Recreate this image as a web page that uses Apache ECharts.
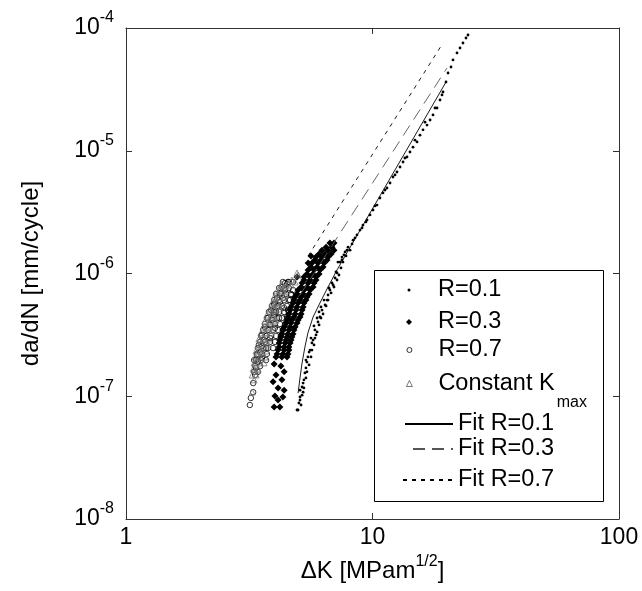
<!DOCTYPE html>
<html><head><meta charset="utf-8">
<script src="https://cdn.jsdelivr.net/npm/echarts@6/dist/echarts.min.js"></script>
<style>html,body{margin:0;padding:0;background:#fff}#c{width:642px;height:591px}</style>
</head><body><div id="c"></div>
<script>
// ---- data (ΔK [MPa√m], da/dN [mm/cycle]) ----
const r01Points = [
  [24.40,8.77e-5],[23.95,8.29e-5],[23.28,7.55e-5],[22.65,6.87e-5],[22.02,6.26e-5],[21.21,5.49e-5],
  [20.82,4.81e-5],[20.25,4.30e-5],[19.87,3.63e-5],[19.32,3.01e-5],[18.79,2.59e-5],[18.27,2.23e-5],
  [17.60,1.96e-5],[17.12,1.78e-5],[16.64,1.62e-5],[16.03,1.48e-5],[15.58,1.34e-5],[15.16,1.18e-5],
  [14.60,1.07e-5],[14.19,9.77e-6],[13.80,8.89e-6],[13.30,8.10e-6],[12.93,7.37e-6],[12.57,6.71e-6],
  [12.11,6.11e-6],[11.78,5.46e-6],[11.45,4.97e-6],[11.03,4.53e-6],[10.72,4.12e-6],[10.43,3.61e-6],
  [10.05,3.29e-6],[9.77,3.00e-6],[9.50,2.73e-6],[9.15,2.48e-6],[8.90,2.26e-6],[8.65,2.06e-6],
  [8.34,1.87e-6],[7.96,1.64e-6],[7.74,1.50e-6],[7.52,1.36e-6],[7.24,1.24e-6],[7.88,1.55e-6],
  [7.52,1.29e-6],[7.18,1.01e-6],[6.85,8.37e-7],[6.54,6.08e-7],[6.12,4.42e-7],[5.84,3.47e-7],
  [5.68,2.72e-7],[5.47,2.09e-7],[5.32,1.55e-7],[5.18,1.19e-7],[5.08,9.86e-8],[4.99,7.73e-8],
  [7.05,9.19e-7],[6.72,7.34e-7],[6.42,5.54e-7],[6.24,5.04e-7],[6.01,4.03e-7],[5.90,3.16e-7],
  [5.74,2.87e-7],[5.58,2.38e-7],[5.42,1.90e-7],[5.37,1.70e-7],[5.27,1.36e-7],[5.23,1.08e-7],
  [5.03,8.81e-8],[4.94,7.73e-8],[5.13,8.49e-8],[6.07,4.86e-7],[6.60,6.68e-7],[6.92,8.06e-7],
  [5.08,1.12e-7],[5.23,1.28e-7],[5.37,1.97e-7],[5.53,2.29e-7],[5.63,2.98e-7],[5.79,3.74e-7],
  [5.96,4.34e-7],[6.18,5.34e-7],[6.36,6.08e-7],[6.66,7.62e-7],[7.11,1.03e-6],[7.38,1.24e-6],
  [7.66,1.42e-6],
  [5.08,9.31e-8],[5.18,1.02e-7],[5.27,1.17e-7],[5.37,1.41e-7],[5.42,1.58e-7],[5.53,1.80e-7],
  [5.63,2.09e-7],[5.68,2.38e-7],[5.79,2.62e-7],[5.84,2.98e-7],[5.96,3.34e-7],[6.07,3.81e-7],
  [6.18,4.34e-7],[6.30,4.68e-7],[6.48,5.44e-7],[6.60,6.08e-7],[6.79,6.94e-7],[6.98,7.76e-7],
  [7.18,8.85e-7],[7.31,9.72e-7],[7.45,1.11e-6],[7.59,1.24e-6],[7.81,1.39e-6],[8.11,1.55e-6],
  [8.26,1.74e-6],[8.49,1.95e-6],[9.07,2.35e-6],[9.41,2.63e-6],[10.23,3.55e-6],[11.24,4.79e-6],
  [12.34,6.35e-6],[13.54,8.73e-6],[14.87,1.22e-5],[16.33,1.71e-5],[17.93,2.23e-5],[19.14,2.85e-5]
];
const r03Points = [
  [6.72,1.77e-6],[6.98,1.77e-6],
  [6.24,1.55e-6],[6.60,1.55e-6],[6.98,1.55e-6],
  [5.90,1.36e-6],[6.24,1.36e-6],[6.60,1.36e-6],
  [5.68,1.22e-6],[6.01,1.22e-6],[6.36,1.22e-6],
  [5.48,1.07e-6],[5.79,1.07e-6],[6.12,1.07e-6],
  [5.27,9.36e-7],[5.58,9.36e-7],[5.90,9.36e-7],
  [5.18,8.37e-7],[5.48,8.37e-7],[5.79,8.37e-7],
  [4.99,7.34e-7],[5.27,7.34e-7],[5.58,7.34e-7],
  [4.85,6.44e-7],[5.13,6.44e-7],[5.42,6.44e-7],
  [4.76,5.75e-7],[4.99,5.75e-7],[5.27,5.75e-7],
  [4.63,5.04e-7],[4.89,5.04e-7],[5.18,5.04e-7],
  [4.54,4.42e-7],[4.80,4.42e-7],[5.08,4.42e-7],
  [4.46,3.95e-7],[4.67,3.95e-7],[4.94,3.95e-7],
  [4.33,3.47e-7],[4.58,3.47e-7],[4.80,3.47e-7],
  [4.25,3.04e-7],[4.50,3.04e-7],[4.71,3.04e-7],
  [4.18,2.72e-7],[4.42,2.72e-7],[4.63,2.72e-7],
  [4.14,2.38e-7],[4.38,2.38e-7],[4.58,2.38e-7],
  [4.06,2.09e-7],[4.29,2.09e-7],[4.50,2.09e-7],
  [6.48,1.64e-6],[6.85,1.64e-6],
  [6.07,1.44e-6],[6.42,1.44e-6],[6.79,1.44e-6],
  [5.84,1.29e-6],[6.18,1.29e-6],[6.54,1.29e-6],
  [5.63,1.13e-6],[5.96,1.13e-6],[6.30,1.13e-6],
  [5.42,9.91e-7],[5.74,9.91e-7],[6.07,9.91e-7],
  [5.27,8.85e-7],[5.58,8.85e-7],[5.90,8.85e-7],
  [5.13,7.76e-7],[5.42,7.76e-7],[5.74,7.76e-7],
  [4.94,6.81e-7],[5.23,6.81e-7],[5.53,6.81e-7],
  [4.80,6.08e-7],[5.08,6.08e-7],[5.37,6.08e-7],
  [4.67,5.34e-7],[4.94,5.34e-7],[5.23,5.34e-7],
  [4.58,4.68e-7],[4.85,4.68e-7],[5.13,4.68e-7],
  [4.50,4.18e-7],[4.71,4.18e-7],[4.99,4.18e-7],
  [4.38,3.67e-7],[4.63,3.67e-7],[4.85,3.67e-7],
  [4.29,3.22e-7],[4.54,3.22e-7],[4.76,3.22e-7],
  [4.21,2.87e-7],[4.46,2.87e-7],[4.67,2.87e-7],
  [4.18,2.52e-7],[4.38,2.52e-7],[4.58,2.52e-7],
  [4.10,2.21e-7],[4.33,2.21e-7],[4.54,2.21e-7],
  [3.99,1.83e-7],[4.25,1.76e-7],[4.38,1.58e-7],[4.06,1.49e-7],[3.95,1.31e-7],[4.29,1.36e-7],
  [4.14,1.17e-7],[4.38,1.12e-7],[4.02,1.005e-7],[4.33,9.86e-8],[4.14,9.31e-8],[3.99,8.18e-8],
  [4.21,8.18e-8],[5.48,1.22e-6],[4.94,9.36e-7],[5.63,1.39e-6]
];
const r07Points = [
  [3.18,8.49e-8],[3.21,9.68e-8],[3.28,1.08e-7],[3.28,1.28e-7],[3.34,1.49e-7],[3.37,1.70e-7],
  [3.31,1.97e-7],[3.43,1.90e-7],[3.40,2.17e-7],[3.50,2.29e-7],[3.56,2.57e-7],[3.46,2.62e-7],
  [3.63,2.87e-7],[3.70,3.10e-7],[3.56,3.16e-7],[3.77,3.47e-7],[3.66,3.67e-7],[3.84,3.81e-7],
  [3.91,4.18e-7],[3.77,4.34e-7],[3.99,4.59e-7],[4.06,4.86e-7],[3.88,5.04e-7],[4.14,5.44e-7],
  [3.99,5.64e-7],[4.21,5.86e-7],[4.10,6.31e-7],[4.33,6.31e-7],[4.21,6.94e-7],[4.42,7.34e-7],
  [4.29,7.76e-7],[4.50,8.21e-7],[4.42,8.37e-7],[4.58,8.53e-7],[4.63,6.08e-7],[4.50,4.42e-7],
  [4.67,6.68e-7],[4.38,5.24e-7],[4.18,4.34e-7],[4.02,3.60e-7],[3.84,2.98e-7],[3.70,2.47e-7],
  [3.56,2.05e-7],[4.76,7.34e-7],[4.54,5.04e-7],
  [3.31,1.58e-7],[3.43,1.58e-7],[3.34,1.76e-7],[3.50,1.76e-7],
  [3.37,1.97e-7],[3.53,1.97e-7],[3.70,1.97e-7],[3.40,2.21e-7],[3.56,2.21e-7],[3.73,2.21e-7],
  [3.43,2.47e-7],[3.60,2.47e-7],[3.77,2.47e-7],[3.95,2.47e-7],
  [3.50,2.77e-7],[3.66,2.77e-7],[3.84,2.77e-7],[4.02,2.77e-7],
  [3.53,3.10e-7],[3.70,3.10e-7],[3.88,3.10e-7],[4.06,3.10e-7],[4.25,3.10e-7],
  [3.60,3.47e-7],[3.77,3.47e-7],[3.95,3.47e-7],[4.14,3.47e-7],[4.33,3.47e-7],
  [3.66,3.88e-7],[3.84,3.88e-7],[4.02,3.88e-7],[4.21,3.88e-7],[4.42,3.88e-7],
  [3.73,4.34e-7],[3.91,4.34e-7],[4.10,4.34e-7],[4.29,4.34e-7],
  [3.80,4.86e-7],[3.99,4.86e-7],[4.18,4.86e-7],[4.38,4.86e-7],[4.58,4.86e-7],
  [3.91,5.44e-7],[4.10,5.44e-7],[4.29,5.44e-7],[4.50,5.44e-7],
  [3.99,6.08e-7],[4.18,6.08e-7],[4.38,6.08e-7],[4.58,6.08e-7],
  [4.06,6.81e-7],[4.25,6.81e-7],[4.46,6.81e-7],[4.67,6.81e-7],
  [4.18,7.62e-7],[4.38,7.62e-7],[4.58,7.62e-7],
  [4.33,8.53e-7],[4.54,8.53e-7],[4.76,8.53e-7]
];
const kmaxPoints = [
  [3.25,1.08e-7],[3.31,1.36e-7],[3.34,1.64e-7],[3.37,1.90e-7],[3.43,2.13e-7],[3.46,2.38e-7],
  [3.53,2.67e-7],[3.60,2.98e-7],[3.66,3.28e-7],[3.70,3.60e-7],[3.77,4.03e-7],[3.84,4.34e-7],
  [3.88,4.86e-7],[3.95,5.24e-7],[4.02,5.75e-7],[4.06,6.31e-7],[4.14,6.81e-7],[4.21,7.34e-7],
  [4.29,8.21e-7],[4.38,7.76e-7],[4.54,8.37e-7],[4.71,8.85e-7],[4.94,1.01e-6],[4.99,9.72e-7],
  [4.85,8.53e-7],[3.56,2.29e-7],[3.73,2.77e-7],[3.91,3.47e-7],[4.06,4.18e-7],[4.18,5.44e-7],
  [3.43,1.64e-7],[4.42,6.68e-7],
  [3.25,1.49e-7],[3.37,1.49e-7],[3.28,1.67e-7],[3.43,1.67e-7],
  [3.31,1.87e-7],[3.46,1.87e-7],[3.63,1.87e-7],[3.34,2.09e-7],[3.50,2.09e-7],[3.66,2.09e-7],
  [3.37,2.34e-7],[3.53,2.34e-7],[3.70,2.34e-7],[3.43,2.62e-7],[3.60,2.62e-7],[3.77,2.62e-7],
  [3.46,2.93e-7],[3.63,2.93e-7],[3.80,2.93e-7],[3.53,3.28e-7],[3.70,3.28e-7],[3.88,3.28e-7],
  [3.60,3.67e-7],[3.77,3.67e-7],[3.95,3.67e-7],[3.66,4.10e-7],[3.84,4.10e-7],[4.02,4.10e-7],
  [3.73,4.59e-7],[3.91,4.59e-7],[4.10,4.59e-7],[3.84,5.14e-7],[4.02,5.14e-7],[4.21,5.14e-7],
  [3.91,5.75e-7],[4.10,5.75e-7],[4.29,5.75e-7],[3.99,6.44e-7],[4.18,6.44e-7],[4.38,6.44e-7],
  [4.10,7.20e-7],[4.29,7.20e-7],[4.50,7.20e-7],[4.25,8.06e-7],[4.46,8.06e-7],[4.67,8.06e-7]
];
const fit01Points = [[4.99,1.06e-7],[5.08,1.41e-7],[5.18,1.87e-7],[5.32,2.52e-7],[5.47,3.28e-7],
  [5.74,4.42e-7],[6.12,5.75e-7],[6.60,7.76e-7],[7.18,1.07e-6],[19.87,3.63e-5]];
const fit03Points = [[5.08,6.68e-7],[20.05,4.72e-5]];
const fit07Points = [[5.48,1.39e-6],[19.32,7.55e-5]];

const FONT = "'Liberation Sans', Arial, Helvetica, sans-serif";
const LFS = 23.5;
const chart = echarts.init(document.getElementById('c'), null, {renderer: 'canvas'});

function lg(item, left, top, w, h, pad, extra) {
  return Object.assign({
    data: [item], left: left, top: top, itemWidth: w, itemHeight: h, padding: 0,
    selectedMode: false, orient: 'vertical',
    textStyle: {fontFamily: FONT, fontSize: LFS, lineHeight: 26, color: '#000', padding: [0, 0, 0, pad]}
  }, extra || {});
}
const noSym = {itemStyle: {color: 'rgba(0,0,0,0)', borderColor: 'rgba(0,0,0,0)', borderWidth: 0, opacity: 0}};

chart.setOption({
  animation: false,
  grid: {left: 126, right: 23, top: 28, bottom: 72, show: false},
  xAxis: [{
    type: 'log', logBase: 10, min: 1, max: 100, position: 'bottom',
    axisLine: {lineStyle: {color: '#333', width: 1}},
    axisTick: {inside: true, length: 6, lineStyle: {color: '#333'}},
    minorTick: {show: false}, splitLine: {show: false},
    axisLabel: {fontFamily: FONT, fontSize: 23, color: '#000', margin: 7},
    name: '{a|ΔK [MPam}{s|1/2}{a|]}', nameLocation: 'middle', nameGap: 28,
    nameTextStyle: {rich: {a: {fontFamily: FONT, fontSize: 24, color: '#000'},
      s: {fontFamily: FONT, fontSize: 16, color: '#000', padding: [0, 0, 18, 0]}}}
  }, {
    type: 'log', logBase: 10, min: 1, max: 100, position: 'top',
    axisLine: {lineStyle: {color: '#333', width: 1}},
    axisTick: {inside: true, length: 6, lineStyle: {color: '#333'}},
    axisLabel: {show: false}, splitLine: {show: false}
  }],
  yAxis: [{
    type: 'log', logBase: 10, min: 1e-8, max: 1e-4, interval: 1, position: 'left',
    axisLine: {lineStyle: {color: '#333', width: 1}},
    axisTick: {inside: true, length: 6, lineStyle: {color: '#333'}},
    minorTick: {show: false}, splitLine: {show: false},
    axisLabel: {
      margin: 12,
      formatter: v => '{a|10}{s|' + Math.round(Math.log10(v)) + '}',
      rich: {a: {fontFamily: FONT, fontSize: 23, color: '#000'},
        s: {fontFamily: FONT, fontSize: 16, color: '#000', padding: [0, 0, 20, 0]}}
    },
    name: 'da/dN [mm/cycle]', nameLocation: 'middle', nameRotate: 90, nameGap: 83,
    nameTextStyle: {fontFamily: FONT, fontSize: 24, color: '#000'}
  }, {
    type: 'log', logBase: 10, min: 1e-8, max: 1e-4, interval: 1, position: 'right',
    axisLine: {lineStyle: {color: '#333', width: 1}},
    axisTick: {inside: true, length: 6, lineStyle: {color: '#333'}},
    axisLabel: {show: false}, splitLine: {show: false}
  }],
  graphic: [{
    type: 'rect', z: 3, shape: {x: 374.5, y: 270.5, width: 229, height: 231},
    style: {fill: '#fff', stroke: '#000', lineWidth: 1}
  }],
  legend: [
    lg({name: 'R=0.1', icon: 'circle'}, 407.5, 277, 3, 3, 22.5),
    lg({name: 'R=0.3', icon: 'diamond'}, 406, 309, 6, 6, 21),
    lg({name: 'R=0.7', icon: 'circle'}, 406.5, 337, 5, 5, 21.5,
      {itemStyle: {color: '#fff', borderColor: '#000', borderWidth: 0.8}}),
    lg({name: 'Constant Kmax', icon: 'triangle'}, 406, 371.5, 6, 6, 21, {
      itemStyle: {color: '#fff', borderColor: '#555', borderWidth: 0.8},
      formatter: () => '{t|Constant K}{sub|max}',
      textStyle: {fontFamily: FONT, fontSize: LFS, color: '#000', padding: [0, 0, 0, 21],
        rich: {t: {fontFamily: FONT, fontSize: LFS, color: '#000'},
          sub: {fontFamily: FONT, fontSize: 16, color: '#000', padding: [39, 0, 0, 2]}}}
    }),
    lg({name: 'Fit R=0.1', icon: 'inherit'}, 404, 411, 48, 10, 0, noSym),
    lg({name: 'Fit R=0.3', icon: 'inherit'}, 412, 436, 40, 10, 0, noSym),
    lg({name: 'Fit R=0.7', icon: 'inherit'}, 402, 467, 50, 10, 0, noSym)
  ],
  series: [
    {name: 'Fit R=0.1', type: 'line', data: fit01Points, symbol: 'none', showSymbol: false,
      lineStyle: {color: '#000', width: 0.9}, itemStyle: {color: '#000'}},
    {name: 'Fit R=0.3', type: 'line', data: fit03Points, symbol: 'none', showSymbol: false,
      lineStyle: {color: '#555', width: 0.9, type: [12, 7]}, itemStyle: {color: '#555'}},
    {name: 'Fit R=0.7', type: 'line', data: fit07Points, symbol: 'none', showSymbol: false,
      lineStyle: {color: '#000', width: 0.9, type: [4, 5]}, itemStyle: {color: '#000'}},
    {name: 'R=0.1', type: 'scatter', data: r01Points, symbol: 'circle', symbolSize: 2.8,
      itemStyle: {color: '#000', opacity: 1}},
    {name: 'R=0.3', type: 'scatter', data: r03Points, symbol: 'diamond', symbolSize: 7,
      itemStyle: {color: '#000', opacity: 1}},
    {name: 'R=0.7', type: 'scatter', data: r07Points, symbol: 'circle', symbolSize: 5.5,
      itemStyle: {color: 'rgba(255,255,255,0)', borderColor: '#000', borderWidth: 0.8, opacity: 1}},
    {name: 'Constant Kmax', type: 'scatter', data: kmaxPoints, symbol: 'triangle', symbolSize: 6,
      itemStyle: {color: 'rgba(255,255,255,0)', borderColor: '#777', borderWidth: 0.8, opacity: 1}}
  ]
});
</script></body></html>
